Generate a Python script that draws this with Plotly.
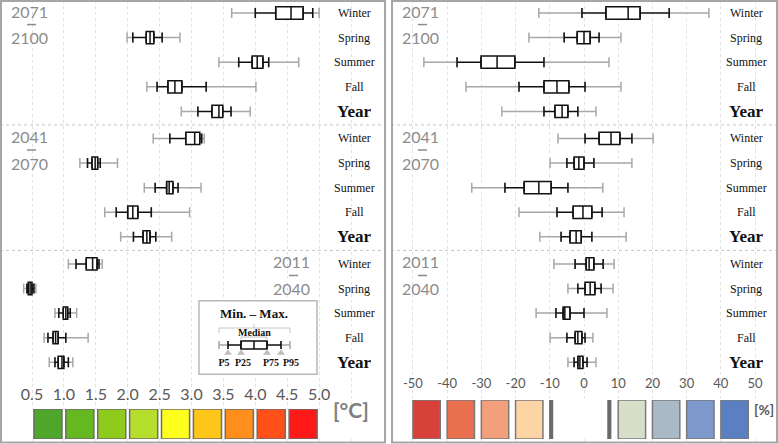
import plotly.graph_objects as go

W, H = 778, 444

SEASONS = ["Winter", "Spring", "Summer", "Fall", "Year"]
PERIODS = [("2071", "2100"), ("2041", "2070"), ("2011", "2040")]  # top -> bottom

# Temperature change [°C], 15 values: period (2071-2100, 2041-2070, 2011-2040) x season
TEMP_MIN = [3.63, 1.99, 3.43, 2.30, 2.84,  2.40, 1.25, 2.26, 1.64, 1.89,  1.07, 0.37, 0.86, 0.69, 0.77]
TEMP_P5  = [4.00, 2.08, 3.74, 2.46, 3.10,  2.66, 1.37, 2.43, 1.82, 2.09,  1.19, 0.42, 0.92, 0.75, 0.86]
TEMP_P25 = [4.32, 2.29, 3.95, 2.63, 3.32,  2.91, 1.44, 2.61, 2.00, 2.24,  1.35, 0.44, 0.99, 0.83, 0.91]
TEMP_MED = [4.56, 2.35, 4.03, 2.74, 3.43,  3.05, 1.49, 2.65, 2.08, 2.30,  1.45, 0.47, 1.03, 0.87, 0.97]
TEMP_P75 = [4.75, 2.41, 4.12, 2.85, 3.49,  3.13, 1.53, 2.71, 2.16, 2.35,  1.52, 0.50, 1.06, 0.91, 1.00]
TEMP_P95 = [4.90, 2.54, 4.21, 3.23, 3.62,  3.16, 1.57, 2.79, 2.37, 2.44,  1.55, 0.53, 1.10, 1.03, 1.07]
TEMP_MAX = [5.00, 2.82, 4.68, 4.01, 3.92,  3.20, 1.84, 3.15, 2.97, 2.69,  1.60, 0.56, 1.20, 1.38, 1.14]

# Precipitation change [%]
PREC_MIN = [-13.2, -16.1, -46.8, -34.5, -24.0,  -7.6, -9.9, -32.8, -19.0, -12.9,  -8.8, -4.7, -14.0, -9.9, -4.7]
PREC_P5  = [-0.6, -5.8, -37.1, -19.0, -11.7,  0.3, -5.0, -23.1, -7.9, -6.7,  -2.6, -1.8, -8.2, -5.0, -2.9]
PREC_P25 = [6.4, -2.0, -30.1, -11.7, -8.5,  4.4, -2.9, -17.5, -3.2, -4.1,  0.6, 0.3, -6.1, -2.6, -1.8]
PREC_MED = [12.9, 0.0, -25.4, -7.9, -6.4,  7.9, -1.5, -13.2, -0.3, -2.3,  1.5, 1.8, -5.6, -1.8, -1.2]
PREC_P75 = [16.4, 1.8, -20.2, -4.4, -4.7,  10.5, 0.0, -9.6, 2.3, -0.8,  2.9, 3.2, -4.1, -0.6, -0.3]
PREC_P95 = [24.9, 4.4, -11.7, 0.3, -1.8,  14.0, 2.9, -4.7, 5.3, 2.3,  5.6, 5.0, 0.0, 0.3, 0.9]
PREC_MAX = [36.5, 10.8, 7.3, 10.8, 3.5,  20.2, 14.0, 5.5, 11.7, 12.3,  8.8, 8.5, 6.7, 2.6, 3.5]

# colour keys
TEMP_STEPS = [0.5, 1.0, 1.5, 2.0, 2.5, 3.0, 3.5, 4.0, 4.5, 5.0]
TEMP_COLORS = ["#4ea72a", "#66b820", "#8ecb1c", "#b5df2c", "#ffff1e",
               "#ffc61a", "#ff8e1c", "#ff5019", "#ff1a1a"]
PREC_STEPS = [-50, -40, -30, -20, -10, 0, 10, 20, 30, 40, 50]
PREC_DRY_COLORS = ["#d8403a", "#e8704f", "#f2a07c", "#fdd4a4"]
PREC_WET_COLORS = ["#d7dfc9", "#a9b9c5", "#7e99cc", "#5b80c1"]

# explanation key: min, P5, P25, median, P75, P95, max
KEY_VALUES = [0.0, 0.9, 2.2, 3.5, 4.8, 6.2, 7.1]
KEY_LABELS = ["P5", "P25", "P75", "P95"]

GREY = "#a8a8a8"
SECTION_GAP = 5.1
rows = [s * SECTION_GAP + k for s in range(3) for k in range(5)]


def px_x(p):
    return p / W


def px_y(p):
    return 1 - p / H


fig = go.Figure()


def add_boxes(xa, ya, mn, p5, q1, med, q3, p95, mx):
    n = len(rows)
    invisible = dict(size=2, opacity=0)
    # min-max (grey) whisker parts
    fig.add_trace(go.Scatter(
        x=p5 + p95, y=rows + rows, mode="markers", marker=invisible,
        error_x=dict(type="data", symmetric=False,
                     arrayminus=[a - b for a, b in zip(p5, mn)] + [0] * n,
                     array=[0] * n + [b - a for a, b in zip(p95, mx)],
                     color=GREY, thickness=1.5, width=5),
        xaxis=xa, yaxis=ya, hoverinfo="skip"))
    # P5-P95 (black) whisker parts
    fig.add_trace(go.Scatter(
        x=q1 + q3, y=rows + rows, mode="markers", marker=invisible,
        error_x=dict(type="data", symmetric=False,
                     arrayminus=[a - b for a, b in zip(q1, p5)] + [0] * n,
                     array=[0] * n + [b - a for a, b in zip(q3, p95)],
                     color="#111111", thickness=1.5, width=5),
        xaxis=xa, yaxis=ya, hoverinfo="skip"))
    fig.add_trace(go.Box(
        y=rows, q1=q1, median=med, q3=q3, lowerfence=q1, upperfence=q3,
        orientation="h", width=0.5, whiskerwidth=0, boxpoints=False,
        fillcolor="white", line=dict(color="#111111", width=1.5),
        xaxis=xa, yaxis=ya, hoverinfo="skip"))


add_boxes("x", "y", TEMP_MIN, TEMP_P5, TEMP_P25, TEMP_MED, TEMP_P75, TEMP_P95, TEMP_MAX)
add_boxes("x2", "y2", PREC_MIN, PREC_P5, PREC_P25, PREC_MED, PREC_P75, PREC_P95, PREC_MAX)

# ---- colour keys
temp_mid = [(a + b) / 2 for a, b in zip(TEMP_STEPS[:-1], TEMP_STEPS[1:])]
fig.add_trace(go.Bar(x=temp_mid, y=[1] * len(temp_mid), width=0.44,
                     marker=dict(color=TEMP_COLORS, line=dict(color="#6e6e6e", width=1.5)),
                     xaxis="x3", yaxis="y3", hoverinfo="skip"))

dry_x = [s + 4 for s in PREC_STEPS[:4]]
wet_x = [s + 4 for s in PREC_STEPS[6:10]]
fig.add_trace(go.Bar(x=dry_x + wet_x, y=[1] * 8, width=8,
                     marker=dict(color=PREC_DRY_COLORS + PREC_WET_COLORS,
                                 line=dict(color="#7a7a7a", width=1.5)),
                     xaxis="x4", yaxis="y4", hoverinfo="skip"))
fig.add_trace(go.Bar(x=[-1], y=[1], width=18, marker=dict(color="white", line=dict(width=0)),
                     xaxis="x4", yaxis="y4", hoverinfo="skip"))
fig.add_trace(go.Bar(x=[-9.6, 7.4], y=[1, 1], width=1.2, marker=dict(color="#6a6a6a", line=dict(width=0)),
                     xaxis="x4", yaxis="y4", hoverinfo="skip"))

# ---- explanation key (min/P5/P25/median/P75/P95/max)
kmn, k5, k25, kmed, k75, k95, kmx = KEY_VALUES
ky = 45
# white frame of the key
fig.add_trace(go.Bar(x=[3.9], y=[73.6], base=[0.7], width=11.8,
                     marker=dict(color="white", line=dict(color="#b8b8b8", width=1.5)),
                     xaxis="x5", yaxis="y5", hoverinfo="skip"))
fig.add_trace(go.Scatter(x=[k5, k95], y=[ky, ky], mode="markers", marker=dict(size=2, opacity=0),
                         error_x=dict(type="data", symmetric=False, arrayminus=[k5 - kmn, 0],
                                      array=[0, kmx - k95], color=GREY, thickness=1.5, width=4),
                         xaxis="x5", yaxis="y5", hoverinfo="skip"))
fig.add_trace(go.Scatter(x=[k25, k75], y=[ky, ky], mode="markers", marker=dict(size=2, opacity=0),
                         error_x=dict(type="data", symmetric=False, arrayminus=[k25 - k5, 0],
                                      array=[0, k95 - k75], color="#111111", thickness=1.5, width=4),
                         xaxis="x5", yaxis="y5", hoverinfo="skip"))
fig.add_trace(go.Box(y=[ky], q1=[k25], median=[kmed], q3=[k75], lowerfence=[k25], upperfence=[k75],
                     orientation="h", width=8, whiskerwidth=0, boxpoints=False,
                     fillcolor="white", line=dict(color="#111111", width=1.5),
                     xaxis="x5", yaxis="y5", hoverinfo="skip"))
fig.add_trace(go.Scatter(x=[k5, k25, k75, k95], y=[53] * 4, mode="markers",
                         marker=dict(symbol="triangle-up", size=7, color="#bdbdbd"),
                         xaxis="x5", yaxis="y5", hoverinfo="skip"))
fig.add_trace(go.Scatter(x=[kmn, kmn, kmx, kmx, None, kmed, kmed, None, k25, k25, k75, k75],
                         y=[33, 28, 28, 33, None, 28, 24, None, 39.5, 37, 37, 39.5],
                         mode="lines", line=dict(color="#c4c4c4", width=1),
                         xaxis="x5", yaxis="y5", hoverinfo="skip"))
fig.add_trace(go.Scatter(x=[0.5, 2.4, 5.2, 7.2], y=[63] * 4, mode="text",
                         text=[f"<b>{t}</b>" for t in KEY_LABELS],
                         textfont=dict(family="Liberation Serif", size=10, color="#111111"),
                         xaxis="x5", yaxis="y5", hoverinfo="skip"))

annotations = []
shapes = []
serif = "Liberation Serif"
for ya, xc in (("y", 354), ("y2", 746)):
    for i, r in enumerate(rows):
        season = SEASONS[i % 5]
        if season == "Year":
            txt, f = "<b>Year</b>", dict(family=serif, size=17, color="#111111")
        else:
            txt, f = season, dict(family=serif, size=12, color="#111111")
        annotations.append(dict(x=px_x(xc), y=r, xref="paper", yref=ya, text=txt,
                                xanchor="center", showarrow=False, font=f))

period_font = dict(family="Lato", size=16, color="#8c8c8c")
period_x = {("y", 0): 29, ("y", 1): 29, ("y", 2): 291, ("y2", 0): 420, ("y2", 1): 420, ("y2", 2): 420}
for ya in ("y", "y2"):
    for s, (start, end) in enumerate(PERIODS):
        xc = period_x[(ya, s)]
        base = rows[s * 5]
        annotations.append(dict(x=px_x(xc), y=base, xref="paper", yref=ya, text=start, yshift=2,
                                xanchor="center", showarrow=False, font=period_font))
        annotations.append(dict(x=px_x(xc), y=base + 1, xref="paper", yref=ya, text=end,
                                xanchor="center", showarrow=False, font=period_font))
        # short dash between the two years
        shapes.append(dict(type="line", xref="paper", yref=ya, x0=px_x(xc - 2), x1=px_x(xc + 7),
                           y0=base + 0.47, y1=base + 0.47, line=dict(color="#8c8c8c", width=1.5)))

annotations += [
    dict(x=3.5, y=13, xref="x5", yref="y5", text="<b>Min. – Max.</b>", showarrow=False,
         font=dict(family=serif, size=13, color="#111111")),
    dict(x=3.5, y=32.5, xref="x5", yref="y5", text="<b>Median</b>", showarrow=False,
         font=dict(family=serif, size=10, color="#111111")),
    dict(x=px_x(351), y=px_y(424), xref="paper", yref="paper", text="<b>[°C]</b>",
         xanchor="center", showarrow=False, font=dict(family="Lato", size=21, color="#7f7f7f")),
    dict(x=px_x(764), y=px_y(420), xref="paper", yref="paper", text="<b>[%]</b>",
         xanchor="center", showarrow=False, font=dict(family="Lato", size=14, color="#595959")),
]

for ya, x0, x1 in (("y", 0, 385), ("y2", 391, 777)):
    for s in (1, 2):
        yv = s * SECTION_GAP - 0.55
        shapes.append(dict(type="line", xref="paper", yref=ya, x0=px_x(x0), x1=px_x(x1),
                           y0=yv, y1=yv, line=dict(color="#c4c4c4", width=1, dash="dot")))
    shapes.append(dict(type="rect", xref="paper", yref="paper", x0=px_x(x0 + 1), x1=px_x(x1),
                       y0=px_y(442.5), y1=px_y(1), line=dict(color="#a6a6a6", width=2)))

grid = dict(showgrid=True, gridcolor="#e2e2e2", griddash="dot", gridwidth=1,
            zeroline=False, showline=False, showticklabels=False, ticks="")
hidden = dict(visible=False, showgrid=False, zeroline=False)
y_rng = [(H - 13) / 24.6, -13 / 24.6]
left_dom = [0, px_x(385)]
right_dom = [px_x(391), px_x(777)]
left_rng = [0.5 - 32 / 63.8, 0.5 + 353 / 63.8]
right_rng = [-56.4, 56.4]

fig.update_layout(
    width=W, height=H, margin=dict(l=0, r=0, t=0, b=0),
    paper_bgcolor="white", plot_bgcolor="white",
    showlegend=False, barmode="overlay",
    xaxis=dict(domain=left_dom, range=left_rng, tickvals=TEMP_STEPS + [5.5], anchor="y", **grid),
    yaxis=dict(domain=[0, 1], range=y_rng, anchor="x", **hidden),
    xaxis2=dict(domain=right_dom, range=right_rng, tickvals=PREC_STEPS, anchor="y2", **grid),
    yaxis2=dict(domain=[0, 1], range=y_rng, anchor="x2", **hidden),
    xaxis3=dict(domain=left_dom, range=left_rng, anchor="y3", side="top",
                tickvals=TEMP_STEPS, ticktext=[f"{v:.1f}" for v in TEMP_STEPS],
                showgrid=False, zeroline=False, showline=False, ticks="", ticklabelstandoff=5,
                tickfont=dict(family="Lato", size=16, color="#595959")),
    yaxis3=dict(domain=[px_y(439), px_y(409)], range=[0, 1], anchor="x3", **hidden),
    xaxis4=dict(domain=right_dom, range=right_rng, anchor="y4", side="top",
                tickvals=PREC_STEPS, ticktext=[str(v) for v in PREC_STEPS],
                showgrid=False, zeroline=False, showline=False, ticks="",
                tickfont=dict(family="Lato", size=13, color="#595959"), ticklabelstandoff=8),
    yaxis4=dict(domain=[px_y(439), px_y(400)], range=[0, 1], anchor="x4", **hidden),
    xaxis5=dict(domain=[px_x(198), px_x(318)], range=[-2.1, 9.9], anchor="y5", **hidden),
    yaxis5=dict(domain=[px_y(375), px_y(300)], range=[75, 0], anchor="x5", **hidden),
    annotations=annotations, shapes=shapes,
)

fig.write_html("out.html", config={"displayModeBar": False},
               post_script="document.body.style.margin='0';")
